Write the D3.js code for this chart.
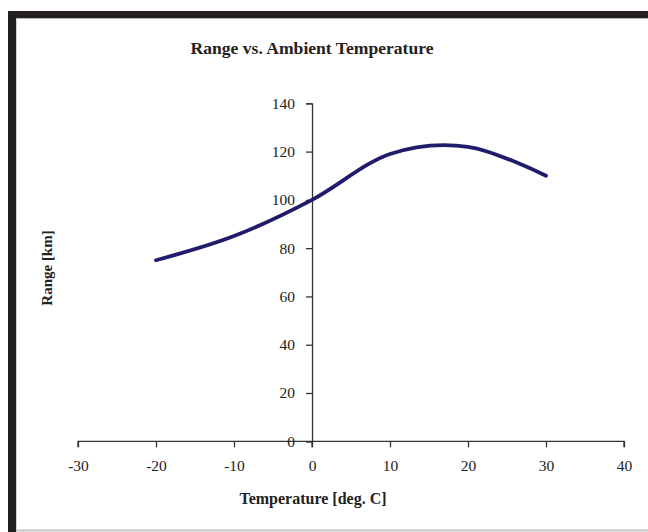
<!DOCTYPE html>
<html>
<head>
<meta charset="utf-8">
<script src="https://cdn.jsdelivr.net/npm/d3@7"></script>
<style>
  html, body { margin: 0; padding: 0; background: #fff; }
  svg { display: block; }
  text { font-family: "Liberation Serif", "Times New Roman", serif; fill: #222; }
</style>
</head>
<body>
<svg id="chart" width="648" height="532"></svg>
<script>
// ---- data ----
const temperatures = [-20, -10, 0, 10, 20, 30];
const rangeKm = [75, 85, 100, 119, 122, 110];
const xTicks = [-30, -20, -10, 0, 10, 20, 30, 40];
const yTicks = [0, 20, 40, 60, 80, 100, 120, 140];
const titleText = "Range vs. Ambient Temperature";
const xTitle = "Temperature [deg. C]";
const yTitle = "Range [km]";

const W = 648, H = 532;
const svg = d3.select("#chart");

// frame
svg.append("rect").attr("x", 0).attr("y", 0).attr("width", W).attr("height", H).attr("fill", "#fff");
svg.append("rect").attr("x", 8).attr("y", 11).attr("width", W - 8).attr("height", 7).attr("fill", "#231f20");
svg.append("rect").attr("x", 8).attr("y", 11).attr("width", 8).attr("height", H - 11).attr("fill", "#231f20");
svg.append("line").attr("x1", 16).attr("x2", W).attr("y1", 18.5).attr("y2", 18.5).attr("stroke", "#b8b8b8").attr("stroke-width", 1);
svg.append("line").attr("x1", 16.5).attr("x2", 16.5).attr("y1", 18).attr("y2", H).attr("stroke", "#d0d0d0").attr("stroke-width", 1);
svg.append("line").attr("x1", 16).attr("x2", W).attr("y1", 530.5).attr("y2", 530.5).attr("stroke", "#c4c4c4").attr("stroke-width", 2);

const x = d3.scaleLinear().domain([-30, 40]).range([78, 624]);
const y = d3.scaleLinear().domain([0, 140]).range([441.3, 103.3]);

// x axis
const xAxis = svg.append("g")
  .attr("transform", `translate(0,${y(0)})`)
  .call(d3.axisBottom(x).tickValues(xTicks).tickSize(6).tickPadding(13).tickFormat(d => String(d)));
// y axis
const yAxis = svg.append("g")
  .attr("transform", `translate(${x(0)},0)`)
  .call(d3.axisLeft(y).tickValues(yTicks).tickSize(6).tickPadding(11).tickFormat(d => String(d)));

[xAxis, yAxis].forEach(g => {
  g.select(".domain").attr("stroke", "#333").attr("stroke-width", 1.3);
  g.selectAll(".tick line").attr("stroke", "#333").attr("stroke-width", 1.3);
  g.selectAll(".tick text")
    .attr("font-family", "Liberation Serif, Times New Roman, serif")
    .attr("font-size", 15.5).attr("fill", "#333");
});
// extend y-axis slightly below x-axis
svg.append("line").attr("x1", x(0)).attr("x2", x(0)).attr("y1", y(0)).attr("y2", y(0) + 6)
  .attr("stroke", "#333").attr("stroke-width", 1.3);
xAxis.selectAll(".domain").attr("d", `M${x(-30)},6V0H${x(40)}V6`);

// line
const pts = temperatures.map((t, i) => [t, rangeKm[i]]);
svg.append("path")
  .datum(pts)
  .attr("fill", "none")
  .attr("stroke", "#1f1c6c")
  .attr("stroke-width", 3.8)
  .attr("stroke-linecap", "round")
  .attr("stroke-linejoin", "round")
  .attr("d", d3.line().x(d => x(d[0])).y(d => y(d[1])).curve(d3.curveCatmullRom.alpha(0)));

// titles
svg.append("text").attr("x", 312).attr("y", 54).attr("text-anchor", "middle")
  .attr("font-size", 17.6).attr("font-weight", "bold").text(titleText);
svg.append("text").attr("x", 313).attr("y", 504).attr("text-anchor", "middle")
  .attr("font-size", 16).attr("font-weight", "bold").text(xTitle);
svg.append("text").attr("transform", "translate(52,268) rotate(-90)").attr("text-anchor", "middle")
  .attr("font-size", 15).attr("font-weight", "bold").text(yTitle);
</script>
</body>
</html>
